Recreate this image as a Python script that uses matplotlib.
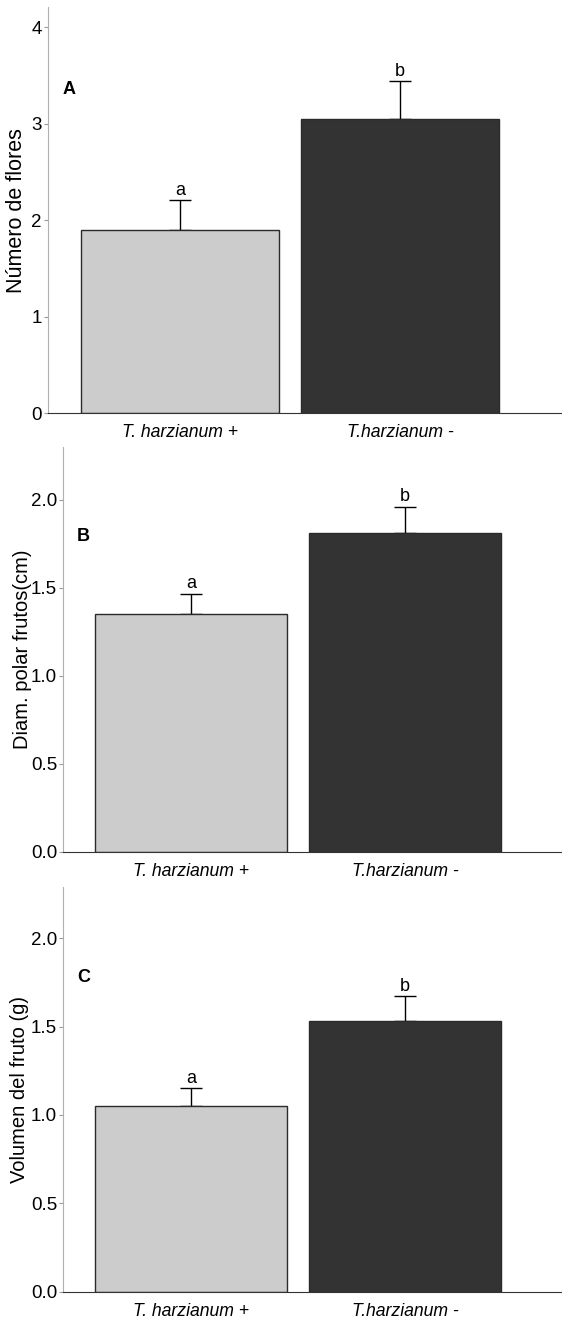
import matplotlib.pyplot as plt

plt.rcParams['font.family'] = ['Liberation Sans', 'DejaVu Sans']

groups = ["T. harzianum +", "T.harzianum -"]
panel_letters = ["A", "B", "C"]
ylabels = ["Número de flores", "Diam. polar frutos(cm)", "Volumen del fruto (g)"]

flores_mean = [1.90, 3.05]
flores_err = [0.31, 0.39]
diam_mean = [1.35, 1.81]
diam_err = [0.115, 0.15]
vol_mean = [1.053, 1.534]
vol_err = [0.098, 0.138]

signif = ["a", "b"]

means = [flores_mean, diam_mean, vol_mean]
errs = [flores_err, diam_err, vol_err]
ylims = [4.21, 2.30, 2.29]
yticks = [[0, 1, 2, 3, 4], [0.0, 0.5, 1.0, 1.5, 2.0], [0.0, 0.5, 1.0, 1.5, 2.0]]
ytick_fmt = ["{:.0f}", "{:.1f}", "{:.1f}"]
letter_y = [3.36, 1.79, 1.78]
ylabel_size = [15.5, 14.5, 14.5]
ylabel_x = [-0.040, -0.062, -0.068]

# axes boxes in figure fraction (left, bottom, width, height)
boxes = [
    (0.0854, 0.6871, 0.9146, 0.3076),
    (0.1127, 0.3553, 0.8873, 0.3064),
    (0.1127, 0.0222, 0.8873, 0.3063),
]

fig = plt.figure(figsize=(5.62, 13.21), dpi=100)
bar_colors = ['#cccccc', '#333333']

for i in range(3):
    ax = fig.add_axes(boxes[i])
    x = [0, 1]
    ax.bar(x, means[i], width=0.9, color=bar_colors, edgecolor='#2a2a2a',
           linewidth=1.0, zorder=2)
    ax.errorbar(x, means[i], yerr=[[0, 0], errs[i]], fmt='none', ecolor='black',
                elinewidth=1.0, capsize=8, capthick=1.0, zorder=1)
    for j in range(2):
        ax.annotate(signif[j], (x[j], means[i][j] + errs[i][j]), xytext=(0, 1),
                    textcoords='offset points', ha='center', va='bottom', fontsize=13)
    ax.text(-0.535, letter_y[i], panel_letters[i], fontsize=13, fontweight='bold',
            ha='left', va='center')

    ax.set_xlim(-0.6, 1.736)
    ax.set_ylim(0, ylims[i])
    ax.set_xticks(x)
    ax.set_xticklabels(groups, fontsize=12.7, style='italic')
    ax.set_yticks(yticks[i])
    ax.set_yticklabels([ytick_fmt[i].format(v) for v in yticks[i]], fontsize=13.5)
    ax.set_ylabel(ylabels[i], fontsize=ylabel_size[i])
    ax.yaxis.set_label_coords(ylabel_x[i], 0.5)

    ax.spines['top'].set_visible(False)
    ax.spines['right'].set_visible(False)
    ax.spines['left'].set_color('#b0b0b0')
    ax.spines['bottom'].set_color('#333333')
    ax.tick_params(axis='x', length=0, pad=8)
    ax.tick_params(axis='y', length=3, color='#999999', pad=1.5)

fig.savefig("out.png", dpi=100)
